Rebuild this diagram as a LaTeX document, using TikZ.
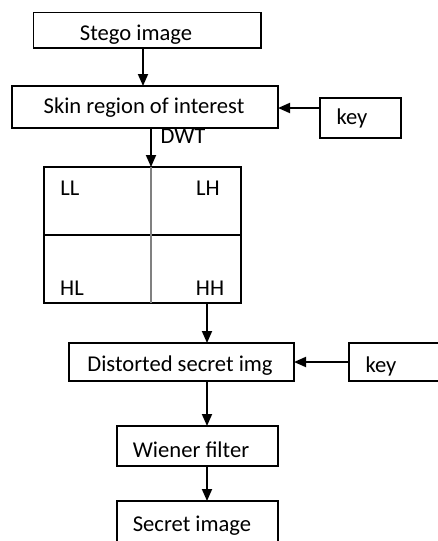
\documentclass[tikz,border=0pt]{standalone}
\usepackage{fontspec}
\setmainfont{Carlito}
\usetikzlibrary{arrows.meta}
\begin{document}
\begin{tikzpicture}[x=1pt,y=-1pt,
  box/.style={draw, line width=1.8pt, inner sep=0pt, outer sep=0pt},
  lbl/.style={inner sep=0pt, anchor=base, font=\fontsize{22.6}{26}\selectfont},
  arr/.style={line width=1.8pt, -{Triangle[length=12pt,width=10pt]}}]
\useasboundingbox (0,0) rectangle (438,541);
\clip (0,0) rectangle (438,541);
% boxes
\node[box, minimum width=227.5pt, minimum height=35.5pt] (stego) at (147.25,30.25) {};
\node[box, minimum width=266pt, minimum height=42pt] (skin) at (145,107) {};
\node[box, minimum width=81pt, minimum height=40pt] (key1) at (360.5,118) {};
\node[box, minimum width=197pt, minimum height=136pt] (grid) at (142.5,235) {};
\node[box, minimum width=225pt, minimum height=38pt] (dist) at (181.5,362) {};
\node[box, minimum width=120pt, minimum height=38pt] (key2) at (409,362) {};
\node[box, minimum width=161pt, minimum height=40pt] (wien) at (197.5,446) {};
\node[box, minimum width=161pt, minimum height=70pt] (secr) at (197.5,536) {};
% grid dividers
\coordinate (gtop) at (151,167);
\coordinate (gbot) at (151,303);
\draw[line width=1.6pt] (grid.west) -- (grid.east);
\draw[line width=1.4pt, gray] (gtop) -- (gbot);
% texts
\node[lbl] (tstego) at (136,40) {Stego image};
\node[lbl] (tskin) at (144,113) {Skin region of interest};
\node[lbl] (tkey1) at (352,124) {key};
\node[lbl] (tdwt) at (183,143) {DWT};
\node[lbl] (tll) at (70,195) {LL};
\node[lbl] (tlh) at (208,195) {LH};
\node[lbl] (thl) at (72,295) {HL};
\node[lbl] (thh) at (210,295) {HH};
\node[lbl] (tdist) at (180,371) {Distorted secret img};
\node[lbl] (tkey2) at (381,372) {key};
\node[lbl] (twien) at (191,457) {Wiener filter};
\node[lbl] (tsecr) at (192,531) {Secret image};
% connectors
\coordinate (a1) at (143,48);
\draw[arr] (a1) -- (a1 |- skin.north);
\draw[arr] ([yshift=10pt]key1.west) -- ([yshift=10pt]key1.west -| skin.east);
\draw[arr] (skin.south -| gtop) -- (gtop);
\coordinate (a2) at (207,303);
\draw[arr] (a2) -- (a2 |- dist.north);
\draw[arr] (key2.west) -- (dist.east);
\draw[arr] (dist.south -| a2) -- (wien.north -| a2);
\draw[arr] (wien.south -| a2) -- (secr.north -| a2);
\end{tikzpicture}
\end{document}
